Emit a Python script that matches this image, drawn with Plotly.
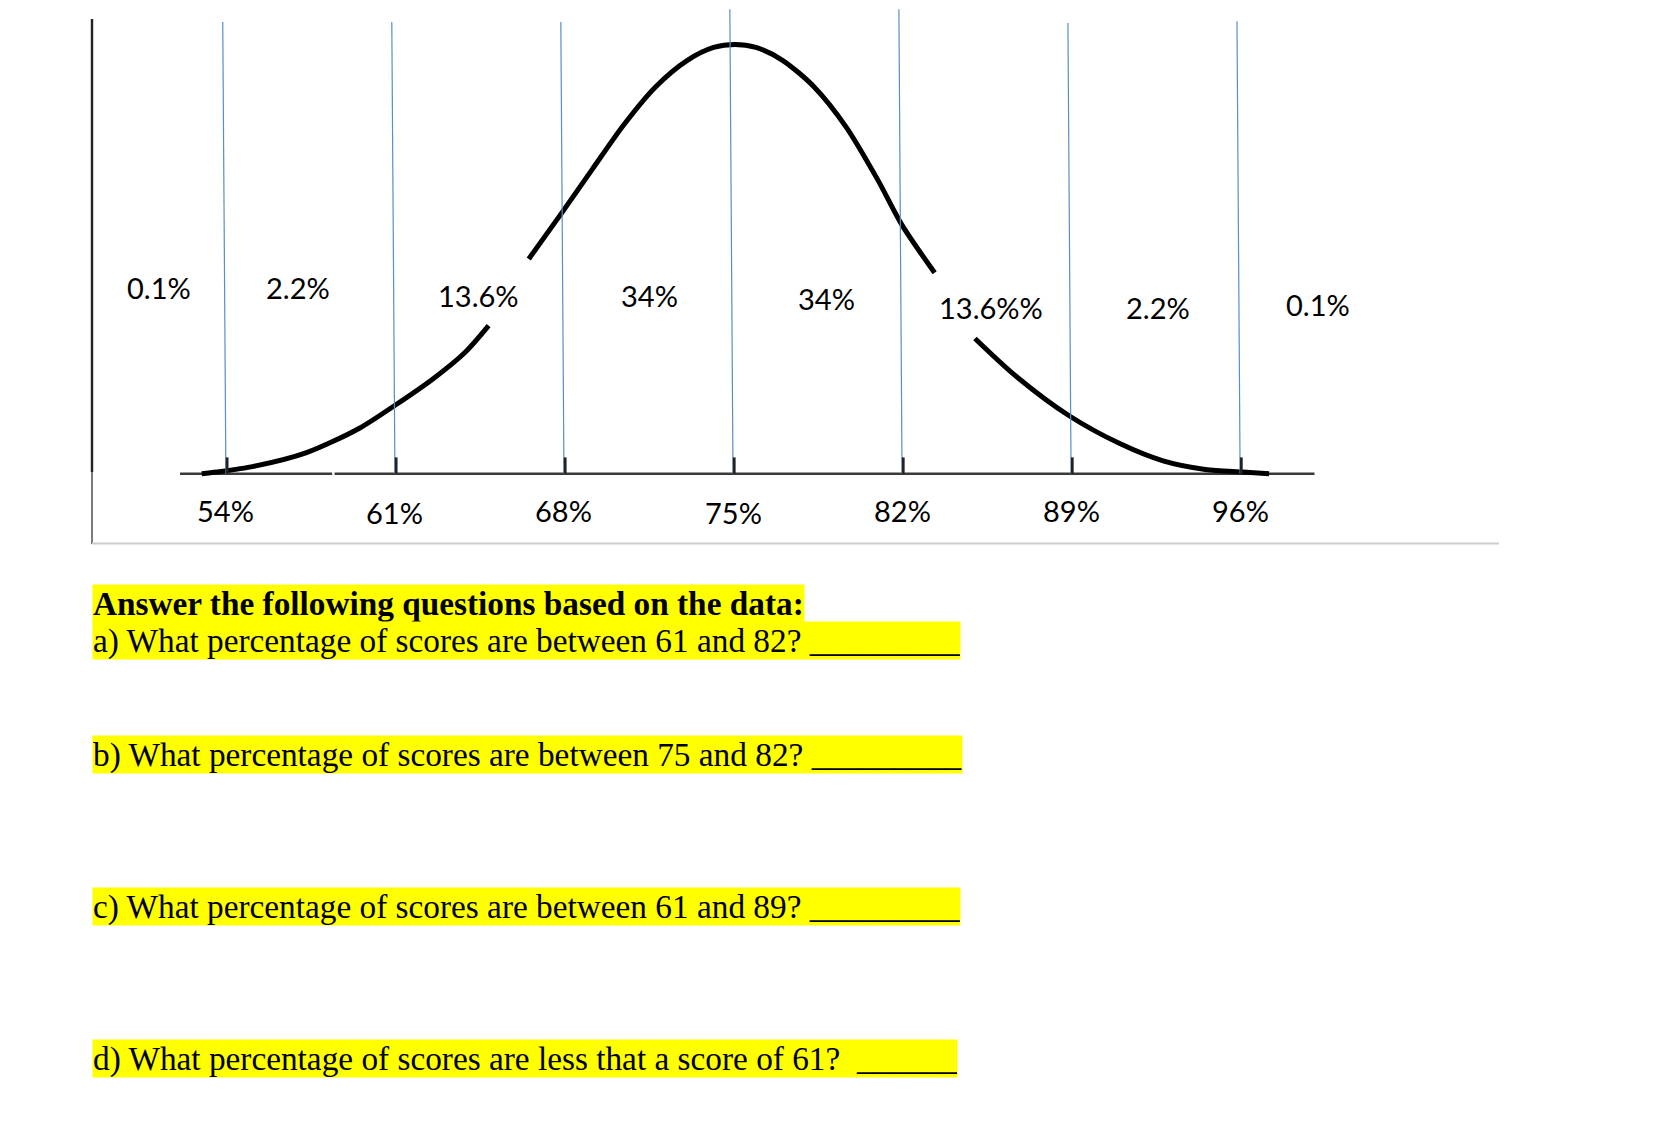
import plotly.graph_objects as go

# ---------------- data ----------------
sd_scores = [54, 61, 68, 75, 82, 89, 96]
score_labels = ["54%", "61%", "68%", "75%", "82%", "89%", "96%"]
region_labels = ["0.1%", "2.2%", "13.6%", "34%", "34%", "13.6%%", "2.2%", "0.1%"]

# bell curve: score vs. relative height (peak = 1);
# None marks the breaks where the curve is hidden behind the 13.6% labels
curve_x = [53.0, 53.62, 55.15, 57.34, 59.53, 61.02, 62.60, 63.91, 64.88, None,
           66.54, 67.85, 69.17, 70.48, 71.79, 73.11, 74.20, 75.08, 75.95, 77.05,
           78.36, 79.68, 80.99, 82.00, 83.35, None,
           85.02, 86.68, 88.92, 91.06, 92.81, 94.56, 96.10, 97.2]
curve_y = [0.0, 0.004, 0.017, 0.049, 0.106, 0.160, 0.222, 0.283, 0.345, None,
           0.500, 0.603, 0.709, 0.813, 0.901, 0.963, 0.993, 1.0, 0.993, 0.963,
           0.901, 0.808, 0.685, 0.579, 0.468, None,
           0.315, 0.229, 0.135, 0.069, 0.030, 0.010, 0.004, 0.0]

questions_header = "Answer the following questions based on the data:"
questions = [
    "a) What percentage of scores are between 61 and 82? _________",
    "b) What percentage of scores are between 75 and 82? _________",
    "c) What percentage of scores are between 61 and 89? _________",
    "d) What percentage of scores are less that a score of 61?  ______",
]

# ---------------- placement / style ----------------
W, H = 1658, 1126
PX_PER_PT = 24.148
MEAN_PX = 733.0
BASE_PX = 473.7
UNIT_PX = 429.3
x0 = 75 - MEAN_PX / PX_PER_PT
x1 = x0 + W / PX_PER_PT
y1 = BASE_PX / UNIT_PX
y0 = -(H - BASE_PX) / UNIT_PX

blue_tops = [1.052, 1.052, 1.052, 1.082, 1.082, 1.050, 1.054]
blue_slant = -0.13
tick_h = 0.038
region_pos = [(51.21, 0.433), (56.99, 0.433), (64.44, 0.414), (71.53, 0.414),
              (78.88, 0.409), (85.68, 0.387), (92.60, 0.387), (99.21, 0.394)]
score_label_y = [-0.086, -0.091, -0.086, -0.091, -0.086, -0.086, -0.086]
baseline_x = [52.1, 58.4, None, 58.5, 99.08]
question_tops = [621, 735, 887, 1039]
header_top = 584


def px(x):
    return x / W


def py(y):
    return 1 - y / H


fig = go.Figure()

# baseline
fig.add_trace(go.Scatter(x=baseline_x, y=[0 if v is not None else None for v in baseline_x],
                         mode="lines", line=dict(color="#3a3a3a", width=2.6),
                         hoverinfo="skip"))

# bell curve
fig.add_trace(go.Scatter(x=curve_x, y=curve_y, mode="lines",
                         line=dict(color="black", width=5, shape="spline", smoothing=0.8),
                         connectgaps=False, hoverinfo="skip"))

# blue section lines
bx, by = [], []
for s, t in zip(sd_scores, blue_tops):
    bx += [s + blue_slant, s, None]
    by += [t, 0, None]
fig.add_trace(go.Scatter(x=bx, y=by, mode="lines",
                         line=dict(color="#5A8EC6", width=1.2), hoverinfo="skip"))

# tick marks on the baseline
tx, ty = [], []
for s in sd_scores:
    tx += [s + 0.05, s + 0.05, None]
    ty += [0, tick_h, None]
fig.add_trace(go.Scatter(x=tx, y=ty, mode="lines",
                         line=dict(color="#222222", width=2.8), hoverinfo="skip"))

annotations = []
for lab, (lx, ly) in zip(region_labels, region_pos):
    annotations.append(dict(x=lx, y=ly, xref="x", yref="y", text=lab, showarrow=False,
                            font=dict(family="Lato", size=29, color="black"),
                            xanchor="center", yanchor="middle"))
for s, lab, ly in zip(sd_scores, score_labels, score_label_y):
    annotations.append(dict(x=s, y=ly, xref="x", yref="y", text=lab, showarrow=False,
                            font=dict(family="Lato", size=29, color="black"),
                            xanchor="center", yanchor="middle"))

qfont = dict(family="Liberation Serif", size=33.3, color="black")
annotations.append(dict(x=px(92), y=py(header_top), xref="paper", yref="paper",
                        text="<b>" + questions_header + "</b>", showarrow=False,
                        xanchor="left", yanchor="top", align="left", font=qfont,
                        bgcolor="#FFFF00", borderpad=0, height=37, valign="middle"))
for q, top in zip(questions, question_tops):
    annotations.append(dict(x=px(92), y=py(top), xref="paper", yref="paper",
                            text=q, showarrow=False,
                            xanchor="left", yanchor="top", align="left", font=qfont,
                            bgcolor="#FFFF00", borderpad=0, height=37, valign="middle"))

shapes = [
    dict(type="line", xref="paper", yref="paper", x0=px(92), x1=px(92),
         y0=py(19), y1=py(472), line=dict(color="#222222", width=2.4)),
    dict(type="line", xref="paper", yref="paper", x0=px(92), x1=px(92),
         y0=py(472), y1=py(544), line=dict(color="#333333", width=1.3)),
    dict(type="line", xref="paper", yref="paper", x0=px(92), x1=px(1499),
         y0=py(543.5), y1=py(543.5), line=dict(color="#cccccc", width=2)),
]

fig.update_layout(
    width=W, height=H, margin=dict(l=0, r=0, t=0, b=0),
    paper_bgcolor="white", plot_bgcolor="white", showlegend=False,
    xaxis=dict(range=[x0, x1], visible=False, fixedrange=True),
    yaxis=dict(range=[y0, y1], visible=False, fixedrange=True),
    annotations=annotations, shapes=shapes,
)

fig.write_html("out.html", config={"displayModeBar": False})
